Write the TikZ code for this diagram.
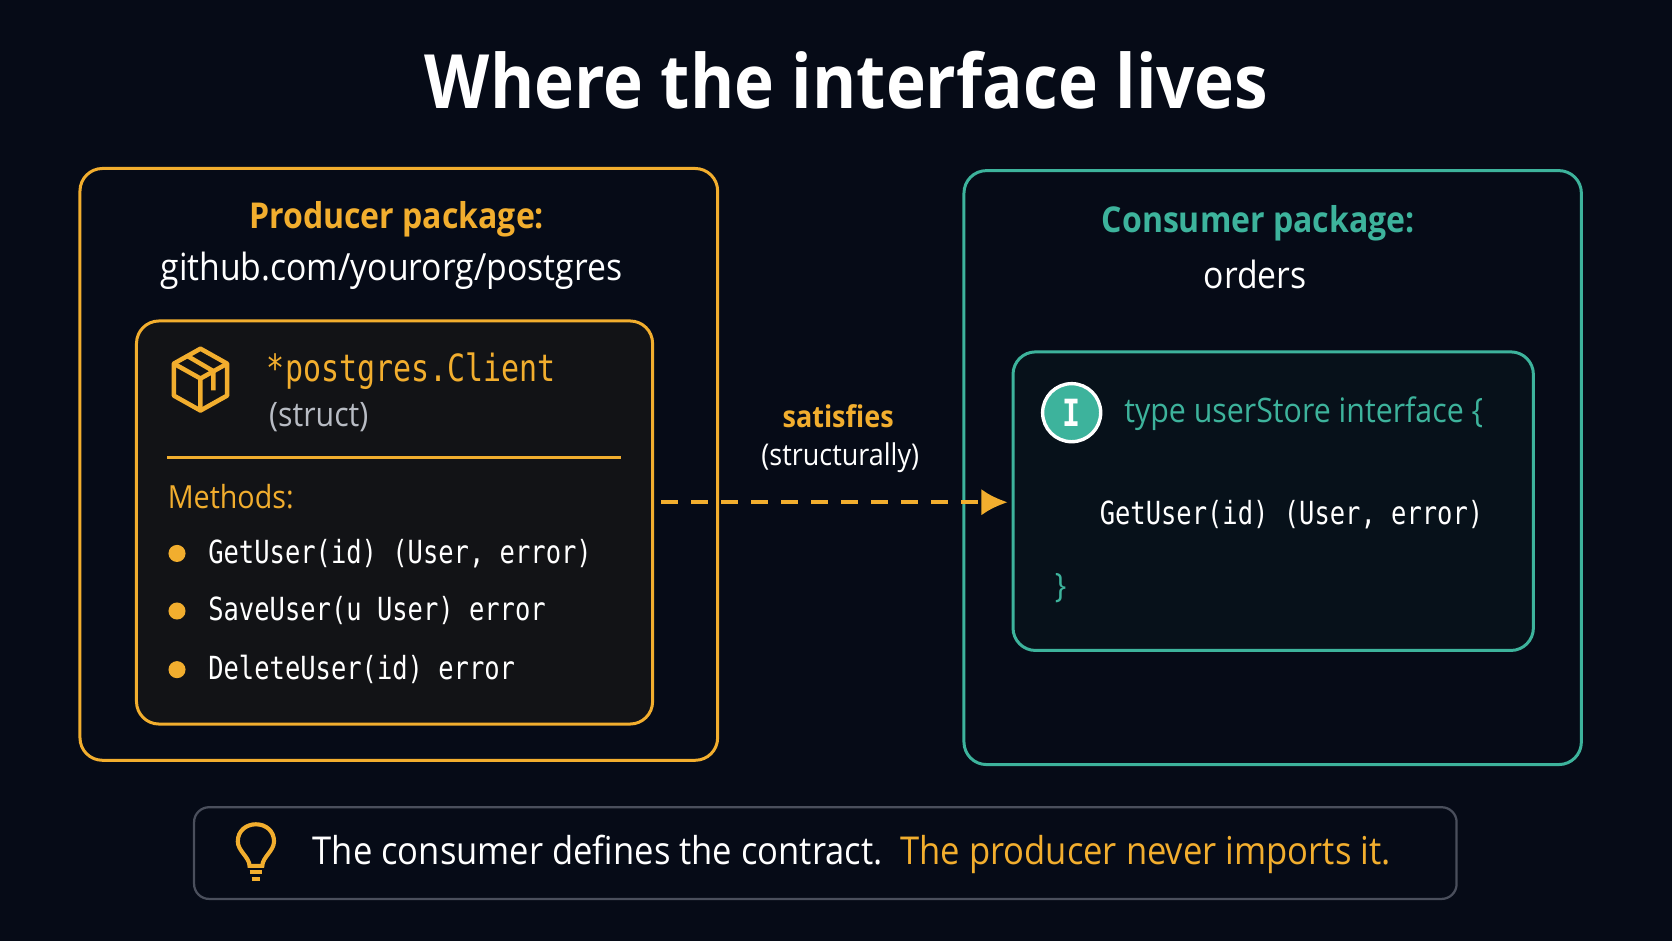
\documentclass[tikz,border=0pt]{standalone}
\usepackage{fontspec}
\usetikzlibrary{arrows.meta}
\setmainfont[FakeStretch=0.9]{Open Sans}
\setmonofont[FakeStretch=0.8]{DejaVu Sans Mono}
\definecolor{bg}{HTML}{060B17}
\definecolor{org}{HTML}{F2AE2E}
\definecolor{teal}{HTML}{3DB39C}
\definecolor{inbg}{HTML}{121316}
\definecolor{tbg}{HTML}{07111A}
\definecolor{gry}{HTML}{B8BCC4}
\definecolor{ftb}{HTML}{4A4F5C}
\tikzset{
 box/.style={rounded corners=12pt,line width=1.6pt},
 txt/.style={inner sep=0pt,text=white},
}
\begin{document}
\begin{tikzpicture}[x=0.02cm,y=-0.02cm]
\fill[bg] (0,0) rectangle (1568,882);
\useasboundingbox (0,0) rectangle (1568,882);
\node[txt,font=\fontsize{40}{46}\selectfont\bfseries] (title) at (794,75) {Where the interface lives};
% producer
\draw[box,org] (75,158) rectangle (673,713);
\node[txt,text=org,font=\fontsize{19}{24}\selectfont\bfseries] (ph) at (372,206) {Producer package:};
\node[txt,font=\fontsize{20}{24}\selectfont] (pp) at (367,254) {github.com/yourorg/postgres};
\draw[box,org,fill=inbg] (128,301) rectangle (612,679);
% cube icon
\begin{scope}[shift={(188,356)},org,line width=2.4pt,line join=round]
\draw (0,-29) -- (25,-15) -- (25,15) -- (0,29) -- (-25,15) -- (-25,-15) -- cycle;
\draw (-25,-15) -- (0,-1) -- (25,-15) (0,-1) -- (0,29);
\draw (-12,-22) -- (12,-8) -- (12,10);
\end{scope}
\node[txt,text=org,anchor=west,font=\fontsize{20}{24}\selectfont\ttfamily] (cl) at (250,348) {*postgres.Client};
\node[txt,text=gry,anchor=west,font=\fontsize{18}{22}\selectfont] (st) at (252,391) {(struct)};
\draw[org,line width=1.2pt] (157,429) -- (582,429);
\node[txt,text=org,anchor=west,font=\fontsize{17}{20}\selectfont] (mh) at (157,466) {Methods:};
\foreach \y/\t in {519/{GetUser(id) (User, error)},573/{SaveUser(u User) error},628/{DeleteUser(id) error}}{
 \fill[org] (166,\y) circle (8);
 \node[txt,anchor=west,font=\fontsize{17}{20}\selectfont\ttfamily] at (195,\y) {\t};
}
% consumer
\draw[box,teal] (904,160) rectangle (1483,717);
\node[txt,text=teal,font=\fontsize{19}{24}\selectfont\bfseries] (ch) at (1180,209) {Consumer package:};
\node[txt,font=\fontsize{20}{24}\selectfont] (co) at (1177,257) {orders};
\draw[box,teal,fill=tbg] (950,330) rectangle (1438,610);
\node[circle,fill=teal,draw=white,line width=1.8pt,minimum size=31pt,inner sep=0pt,text=white,font=\fontsize{20}{24}\selectfont\bfseries\ttfamily] (ic) at (1005,387) {I};
\node[txt,text=teal,anchor=west,font=\fontsize{18}{22}\selectfont] (ty) at (1054,388) {type userStore interface \{};
\node[txt,anchor=west,font=\fontsize{17}{20}\selectfont\ttfamily] (gu) at (1031,483) {GetUser(id) (User, error)};
\node[txt,text=teal,anchor=west,font=\fontsize{18}{22}\selectfont] (cb) at (989,552) {\}};
% arrow
\coordinate (a1) at (620,471);
\coordinate (a2) at (945,471);
\draw[org,line width=2pt,dash pattern=on 9pt off 7pt,-{Latex[length=14pt,width=14pt]}] (a1) -- (a2);
\node[txt,text=org,font=\fontsize{16}{20}\selectfont\bfseries] (sa) at (786,390) {satisfies};
\node[txt,font=\fontsize{16}{20}\selectfont] (sb) at (788,429) {(structurally)};
% footer
\draw[rounded corners=8pt,ftb,line width=1.2pt] (182,757) rectangle (1366,843);
\begin{scope}[shift={(240,800)},org,line width=2.2pt]
\draw (-6,12) .. controls (-6,4) and (-17,-2) .. (-17,-11) .. controls (-17,-21) and (-9,-27) .. (0,-27) .. controls (9,-27) and (17,-21) .. (17,-11) .. controls (17,-2) and (6,4) .. (6,12) -- cycle;
\draw (-6,18) -- (6,18) (-4,24) -- (4,24);
\end{scope}
\node[txt,anchor=west,font=\fontsize{20.5}{24}\selectfont] (f1) at (293,801) {The consumer defines the contract.\ \ \textcolor{org}{The producer never imports it.}};
\end{tikzpicture}
\end{document}
